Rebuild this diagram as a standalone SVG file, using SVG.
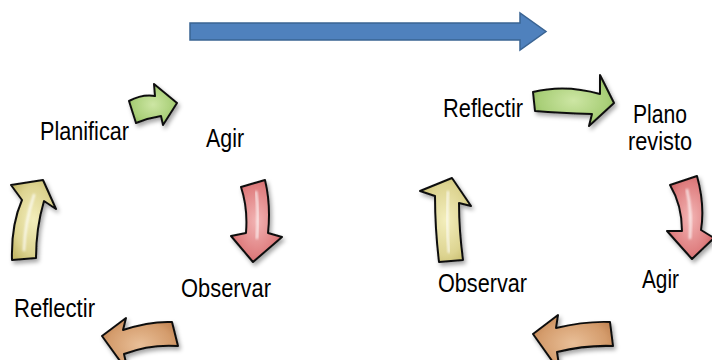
<svg xmlns="http://www.w3.org/2000/svg" width="712" height="360" viewBox="0 0 712 360">
  <style>
    .lbl { font-family: "Liberation Sans", Arial, sans-serif; font-size: 25.5px; fill: #000; }
    .arw { stroke: #111; stroke-width: 2; stroke-linejoin: round; filter: url(#shadow); }
    .hl { fill: none; stroke: #fff; stroke-linecap: round; opacity: 0.75; filter: url(#soft); }
  </style>
  <defs>
    <filter id="shadow" x="-30%" y="-30%" width="160%" height="160%">
      <feDropShadow dx="2" dy="3" stdDeviation="2" flood-color="#000" flood-opacity="0.35"/>
    </filter>
    <filter id="soft" x="-50%" y="-50%" width="200%" height="200%">
      <feGaussianBlur stdDeviation="1"/>
    </filter>
    <radialGradient id="gGreen" cx="50%" cy="50%" r="60%">
      <stop offset="0" stop-color="#cde6a4"/>
      <stop offset="0.7" stop-color="#a9cf78"/>
      <stop offset="1" stop-color="#88b255"/>
    </radialGradient>
    <radialGradient id="gRed" cx="50%" cy="50%" r="60%">
      <stop offset="0" stop-color="#f2b4b4"/>
      <stop offset="0.7" stop-color="#df7f80"/>
      <stop offset="1" stop-color="#c95c5e"/>
    </radialGradient>
    <radialGradient id="gYellow" cx="50%" cy="50%" r="60%">
      <stop offset="0" stop-color="#f3eebc"/>
      <stop offset="0.7" stop-color="#ddd491"/>
      <stop offset="1" stop-color="#c6bb6c"/>
    </radialGradient>
    <radialGradient id="gOrange" cx="50%" cy="50%" r="60%">
      <stop offset="0" stop-color="#e9bf98"/>
      <stop offset="0.7" stop-color="#d49c6c"/>
      <stop offset="1" stop-color="#bd7f4f"/>
    </radialGradient>
  </defs>

  <!-- progression arrow across the top -->
  <g id="timeline">
    <path d="M190,23 L520,23 L520,13 L546,31.5 L520,50 L520,40 L190,40 Z" fill="#4f81bd" stroke="#3a6493" stroke-width="1.5"/>
  </g>

  <!-- first cycle -->
  <g id="c1-planificar"><text class="lbl" x="40" y="140" textLength="89" lengthAdjust="spacingAndGlyphs">Planificar</text></g>
  <g id="c1-agir"><text class="lbl" x="206" y="147" textLength="38" lengthAdjust="spacingAndGlyphs">Agir</text></g>
  <g id="c1-observar"><text class="lbl" x="181" y="297" textLength="90" lengthAdjust="spacingAndGlyphs">Observar</text></g>
  <g id="c1-reflectir"><text class="lbl" x="14" y="317" textLength="81" lengthAdjust="spacingAndGlyphs">Reflectir</text></g>

  <!-- second cycle -->
  <g id="c2-reflectir"><text class="lbl" x="443" y="117" textLength="80" lengthAdjust="spacingAndGlyphs">Reflectir</text></g>
  <g id="c2-plano">
    <text class="lbl" x="633" y="123" textLength="54" lengthAdjust="spacingAndGlyphs">Plano</text>
    <text class="lbl" x="628" y="150" textLength="64" lengthAdjust="spacingAndGlyphs">revisto</text>
  </g>
  <g id="c2-agir"><text class="lbl" x="642" y="288" textLength="37" lengthAdjust="spacingAndGlyphs">Agir</text></g>
  <g id="c2-observar"><text class="lbl" x="438" y="292" textLength="89" lengthAdjust="spacingAndGlyphs">Observar</text></g>

  <!-- cycle arrows -->
  <g id="connectors">
    <!-- cycle 1 -->
    <path class="arw" fill="url(#gGreen)" d="M129,101 Q142,94 155,96 L154,84 L177,103 L163,125 L161,116 Q148,118 136,123 Z"/>
    <path class="arw" fill="url(#gRed)" d="M241,187 L265,180 Q271,205 268,233 L282,237 L253,262 L231,236 L246,233 Q248,208 241,187 Z"/>
    <path class="hl" stroke-width="2.5" d="M256,192 Q259,212 257,238"/>
    <path class="arw" fill="url(#gOrange)" d="M102,336 L126,318 L123,330 Q150,321 172,322 L178,346 Q150,344 124,354 L128,372 Z"/>
    <path class="arw" fill="url(#gYellow)" d="M12,260 Q11,225 22,200 L11,185 L43,180 L56,209 L44,201 Q36,228 36,258 Z"/>
    <path class="hl" stroke-width="2.5" d="M24,250 Q25,222 34,195"/>
    <!-- cycle 2 -->
    <path class="arw" fill="url(#gGreen)" d="M533,92 Q565,84 600,94 L600,75 L614,103 L589,126 L592,114 Q560,113 535,111 Z"/>
    <path class="arw" fill="url(#gRed)" d="M670,185 L697,176 Q705,205 701,230 L714,238 L692,259 L667,231 L682,231 Q682,205 670,185 Z"/>
    <path class="hl" stroke-width="2.5" d="M687,190 Q692,212 690,238"/>
    <path class="arw" fill="url(#gOrange)" d="M533,334 L558,315 L556,328 Q585,321 610,322 L613,346 Q585,345 557,352 L560,372 Z"/>
    <path class="arw" fill="url(#gYellow)" d="M439,262 Q435,228 435,196 L420,191 L452,178 L471,206 L459,203 Q459,230 463,260 Z"/>
    <path class="hl" stroke-width="2.5" d="M449,252 Q446,225 448,192"/>
  </g>
</svg>
